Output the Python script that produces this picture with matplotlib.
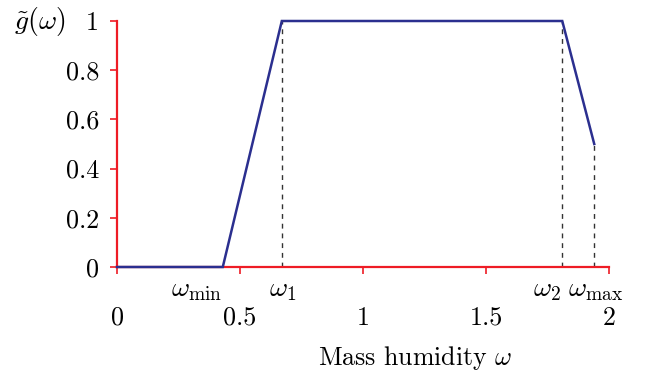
import matplotlib
matplotlib.use("Agg")
import matplotlib.pyplot as plt

plt.rcParams['mathtext.fontset'] = 'cm'
plt.rcParams['font.family'] = ['cmr10', 'DejaVu Serif']
plt.rcParams['axes.unicode_minus'] = False

# data
curve_x = [0.0, 0.43, 0.67, 1.81, 1.94]
curve_y = [0.0, 0.0, 1.0, 1.0, 0.5]
marker_x = [0.43, 0.67, 1.81, 1.94]
marker_labels = [r'$\omega_{\min}$', r'$\omega_1$', r'$\omega_2$', r'$\omega_{\max}$']
marker_ha = ['right', 'center', 'right', 'center']
dashed_idx = [1, 2, 3]
xticks = [0, 0.5, 1, 1.5, 2]
xticklabels = ['0', '0.5', '1', '1.5', '2']
yticks = [0, 0.2, 0.4, 0.6, 0.8, 1]
yticklabels = ['0', '0.2', '0.4', '0.6', '0.8', '1']

RED = '#ee1c25'
BLUE = '#2b2f8f'
FS = 18.8

fig = plt.figure(figsize=(6.46, 3.74), dpi=100)
ax = fig.add_axes([117/646, 1-267/374, 492/646, 246/374])
ax.set_xlim(0, 2)
ax.set_ylim(0, 1)

for i in dashed_idx:
    ax.plot([marker_x[i], marker_x[i]], [0, curve_y[i + 1]], ls=(0, (3.5, 3.5)),
            color='#333333', lw=1.0, zorder=1, clip_on=False)

ax.plot(curve_x, curve_y, color=BLUE, lw=1.8, zorder=3, clip_on=False,
        solid_joinstyle='miter')

for s in ['top', 'right']:
    ax.spines[s].set_visible(False)
for s in ['left', 'bottom']:
    ax.spines[s].set_color(RED)
    ax.spines[s].set_linewidth(1.6)
    ax.spines[s].set_zorder(2)

ax.set_xticks(xticks)
ax.set_xticklabels(xticklabels, fontsize=FS)
ax.set_yticks(yticks)
ax.set_yticklabels(yticklabels, fontsize=FS)
ax.tick_params(axis='x', direction='out', length=5, width=1.2, color=RED, pad=23)
ax.tick_params(axis='y', direction='out', length=5, width=1.2, color=RED, pad=8)

for x, lab, ha in zip(marker_x, marker_labels, marker_ha):
    ax.text(x + (-0.004 if ha == 'right' else 0.004), -0.093, lab, ha=ha, va='center',
            fontsize=20, transform=ax.transData)

fig.text(318/646, 1-358/374, r'Mass humidity $\omega$', ha='left', va='center', fontsize=18.6)
fig.text(40/646, 1-21/374, r'$\tilde{g}(\omega)$', ha='center', va='center', fontsize=20)

fig.savefig('out.png', dpi=100)
